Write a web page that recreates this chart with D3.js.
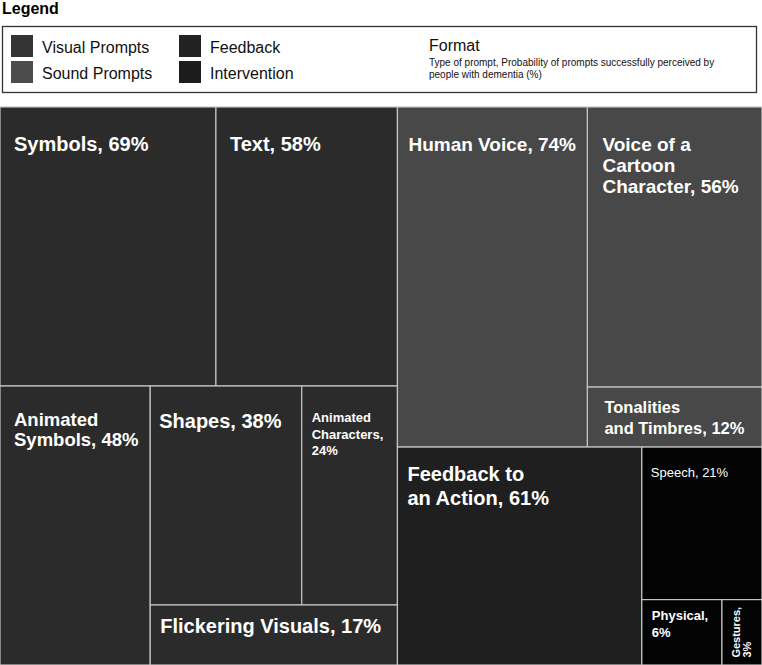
<!DOCTYPE html>
<html lang="en">
<head>
<meta charset="UTF-8">
<title>Prompt formats treemap</title>
<script src="https://d3js.org/d3.v7.min.js"></script>
<style>
  body { margin: 0; background: #fff; }
  svg { display: block; font-family: "Liberation Sans", Arial, Helvetica, sans-serif; }
</style>
</head>
<body>
<svg id="chart" width="762" height="665"></svg>
<script>
// groups (prompt types) and their cells
const groups = ["Visual Prompts", "Sound Prompts", "Feedback", "Intervention"];
const visualNames = ["Symbols", "Text", "Animated Symbols", "Shapes", "Animated Characters", "Flickering Visuals"];
const visualValues = [69, 58, 48, 38, 24, 17];
const soundNames = ["Human Voice", "Voice of a Cartoon Character", "Tonalities and Timbres"];
const soundValues = [74, 56, 12];
const feedbackNames = ["Feedback to an Action"];
const feedbackValues = [61];
const interventionNames = ["Speech", "Physical", "Gestures"];
const interventionValues = [21, 6, 3];

// how the cells of each group are nested (indices into the arrays above)
const visualSplit = [[0, 1], [2, [[3, 4], 5]]];
const soundSplit = [0, [1, 2]];
const feedbackSplit = [0];
const interventionSplit = [0, [1, 2]];

const cellColor = ["#2b2b2b", "#484848", "#1f1f1f", "#030303"];
const legendColor = ["#333333", "#4c4c4c", "#222222", "#1c1c1c"];

// how each label is broken and set
const labelStyle = {
  "Symbols":                      { lines: ["Symbols, 69%"], size: 20, dx: 14, dy: 44, lh: 22 },
  "Text":                         { lines: ["Text, 58%"], size: 20, dx: 14, dy: 44, lh: 22 },
  "Animated Symbols":             { lines: ["Animated", "Symbols, 48%"], size: 18.5, dx: 14, dy: 40, lh: 20 },
  "Shapes":                       { lines: ["Shapes, 38%"], size: 20, dx: 9, dy: 42, lh: 22 },
  "Animated Characters":          { lines: ["Animated", "Characters,", "24%"], size: 13, dx: 10, dy: 36, lh: 16.5 },
  "Flickering Visuals":           { lines: ["Flickering Visuals, 17%"], size: 20, dx: 10, dy: 28, lh: 22 },
  "Human Voice":                  { lines: ["Human Voice, 74%"], size: 19, dx: 11, dy: 44, lh: 21 },
  "Voice of a Cartoon Character": { lines: ["Voice of a", "Cartoon", "Character, 56%"], size: 19, dx: 15, dy: 44, lh: 21 },
  "Tonalities and Timbres":       { lines: ["Tonalities", "and Timbres, 12%"], size: 16.5, dx: 17, dy: 26, lh: 21 },
  "Feedback to an Action":        { lines: ["Feedback to", "an Action, 61%"], size: 20, dx: 10, dy: 34, lh: 24 },
  "Speech":                       { lines: ["Speech, 21%"], size: 13, dx: 9, dy: 30, lh: 16, weight: "normal" },
  "Physical":                     { lines: ["Physical,", "6%"], size: 13, dx: 10, dy: 20, lh: 17 },
  "Gestures":                     { lines: ["Gestures,", "3%"], size: 11, dx: 18, dy: 58, lh: 11, rotate: true }
};

const width = 762;
const svg = d3.select("#chart");

// ---- legend ----
svg.append("text")
  .attr("x", 2).attr("y", 14)
  .attr("font-size", 16).attr("font-weight", "bold")
  .text("Legend");

svg.append("rect")
  .attr("x", 2.5).attr("y", 26.5)
  .attr("width", 754).attr("height", 66)
  .attr("fill", "#fff").attr("stroke", "#333").attr("stroke-width", 1.3);

const legendItem = svg.append("g")
  .selectAll("g")
  .data(groups)
  .join("g")
  .attr("transform", (d, i) => `translate(${11 + Math.floor(i / 2) * 168},${35 + (i % 2) * 26})`);

legendItem.append("rect")
  .attr("width", 22).attr("height", 22)
  .attr("fill", (d, i) => legendColor[i]);

legendItem.append("text")
  .attr("x", 31).attr("y", 18)
  .attr("font-size", 16)
  .attr("fill", "#111")
  .text(d => d);

svg.append("text")
  .attr("x", 429).attr("y", 51)
  .attr("font-size", 16).attr("fill", "#111")
  .text("Format");

svg.append("text")
  .attr("font-size", 10).attr("fill", "#111")
  .selectAll("tspan")
  .data(["Type of prompt, Probability of prompts successfully perceived by", "people with dementia (%)"])
  .join("tspan")
  .attr("x", 429)
  .attr("y", (d, i) => 66 + i * 12)
  .text(d => d);

// ---- treemap ----
function build(split, names, values, g) {
  if (typeof split === "number") return { name: names[split], value: values[split], group: g };
  return { children: split.map(s => build(s, names, values, g)) };
}

const data = {
  children: [
    build(visualSplit, visualNames, visualValues, 0),
    { children: [
      build(soundSplit, soundNames, soundValues, 1),
      { children: [
        build(feedbackSplit, feedbackNames, feedbackValues, 2),
        build(interventionSplit, interventionNames, interventionValues, 3)
      ] }
    ] }
  ]
};

const root = d3.hierarchy(data).sum(d => d.value || 0);

// cut each box along its longer side
function tile(node, x0, y0, x1, y1) {
  (x1 - x0 >= y1 - y0 ? d3.treemapDice : d3.treemapSlice)(node, x0, y0, x1, y1);
}

d3.treemap()
  .size([width, 558])
  .tile(tile)
  (root);

const map = svg.append("g").attr("transform", "translate(0,107)");

const cell = map.selectAll("g")
  .data(root.leaves())
  .join("g")
  .attr("transform", d => `translate(${d.x0},${d.y0})`);

cell.append("rect")
  .attr("width", d => d.x1 - d.x0)
  .attr("height", d => d.y1 - d.y0)
  .attr("fill", d => cellColor[d.data.group])
  .attr("stroke", "#c4c4c4")
  .attr("stroke-width", 1.2);

cell.each(function(d) {
  const s = labelStyle[d.data.name];
  const t = d3.select(this).append("text")
    .attr("fill", "#fff")
    .attr("font-size", s.size)
    .attr("font-weight", s.weight || "bold")
    .attr("transform", s.rotate ? `translate(${s.dx},${s.dy}) rotate(-90)` : `translate(${s.dx},${s.dy})`);
  t.selectAll("tspan")
    .data(s.lines)
    .join("tspan")
    .attr("x", 0)
    .attr("y", (l, i) => i * s.lh)
    .text(l => l);
});
</script>
</body>
</html>
